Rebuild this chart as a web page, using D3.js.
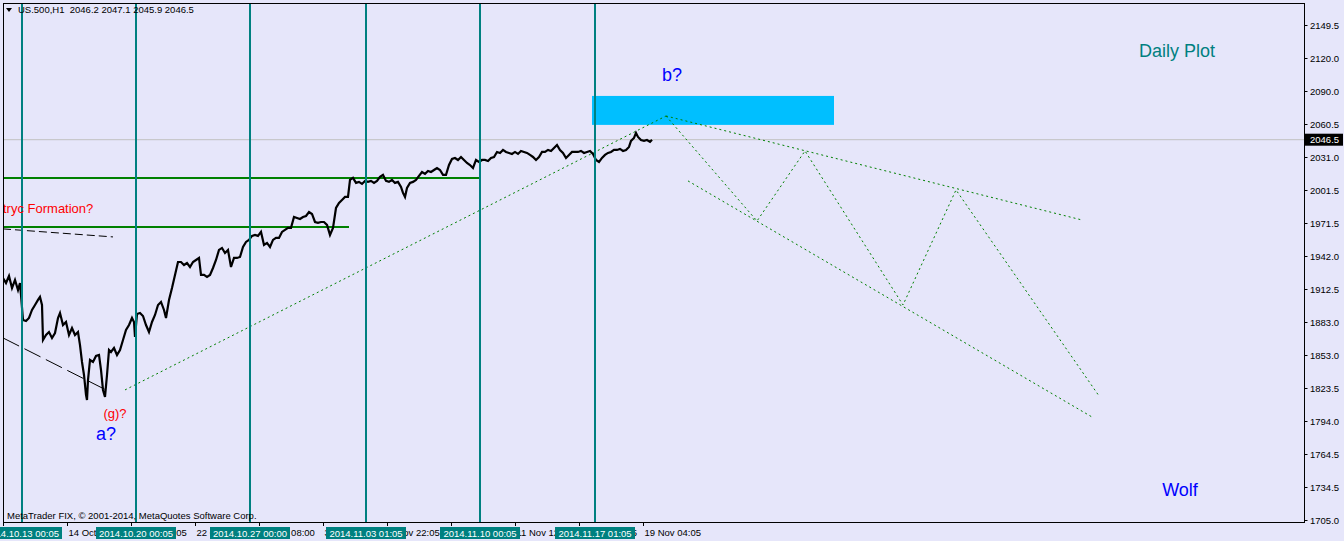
<!DOCTYPE html>
<html>
<head>
<meta charset="utf-8">
<script src="https://cdnjs.cloudflare.com/ajax/libs/d3/7.8.5/d3.min.js"></script>
<style>
  html, body { margin: 0; padding: 0; background: #E6E6FA; }
  svg { display: block; }
  text { font-family: "Liberation Sans", Arial, sans-serif; }
</style>
</head>
<body>
<div id="chart"></div>
<script>
/*
 * US.500 H1 chart with wolfe wave projection
 */

var width = 1344;
var height = 541;
var plotLeft = 3, plotRight = 1304, plotTop = 3, plotBottom = 522;

// price series, H1 bars (bar index from left edge) and close values
var priceBars = [0, 3, 6, 9, 12, 15, 17, 18, 20, 23, 26, 29, 32, 35, 37, 39, 40, 43, 46, 49,
  52, 55, 57, 60, 63, 66, 69, 72, 75, 77, 79, 81, 83, 84, 85, 87, 90, 93, 96, 98,
  100, 102, 104, 106, 108, 111, 114, 117, 120, 123, 126, 129, 131, 132, 134, 137, 140, 143, 146, 149,
  152, 155, 158, 161, 163, 166, 169, 172, 175, 178, 181, 184, 187, 190, 193, 196, 198, 201, 204, 207,
  210, 213, 216, 219, 222, 225, 228, 231, 234, 237, 240, 243, 246, 249, 252, 255, 258, 261, 264, 267,
  270, 273, 276, 279, 282, 285, 288, 291, 294, 297, 300, 303, 306, 309, 312, 315, 318, 321, 324, 327,
  330, 333, 336, 339, 342, 345, 347, 350, 353, 356, 359, 362, 365, 368, 371, 374, 377, 380, 383, 386,
  389, 392, 395, 398, 400, 402, 404, 407, 410, 413, 416, 419, 422, 425, 428, 431, 434, 437, 440, 443,
  446, 449, 452, 455, 458, 461, 464, 467, 470, 473, 476, 479, 482, 485, 488, 491, 494, 497, 500, 503,
  506, 509, 512, 515, 518, 521, 524, 527, 530, 533, 536, 539, 542, 545, 548, 551, 554, 557, 560, 563,
  566, 569, 572, 575, 578, 581, 584, 587, 590, 593, 596, 599, 602, 605, 608, 611, 614, 617, 620, 623,
  626, 628, 631, 633, 635, 638, 641, 644, 647, 649];
var priceClose = [1922.3, 1917.8, 1924.1, 1913.3, 1920.5, 1911.5, 1917.8, 1907.0, 1884.6, 1883.7,
  1886.4, 1893.6, 1898.1, 1902.6, 1905.3, 1898.1, 1866.6, 1871.1, 1873.8, 1868.4,
  1872.9, 1886.4, 1890.9, 1880.1, 1882.8, 1871.1, 1877.4, 1871.1, 1873.8, 1862.1,
  1846.9, 1835.2, 1817.3, 1812.8, 1830.7, 1848.7, 1846.9, 1852.3, 1853.2, 1839.7,
  1821.8, 1815.5, 1835.2, 1857.7, 1855.9, 1859.5, 1853.2, 1857.7, 1866.6, 1875.7,
  1880.1, 1886.4, 1882.8, 1869.4, 1890.0, 1890.9, 1888.2, 1880.1, 1873.8, 1882.8,
  1889.1, 1898.1, 1900.8, 1893.6, 1886.4, 1902.6, 1913.3, 1925.1, 1936.7, 1936.7,
  1934.0, 1935.8, 1932.2, 1936.7, 1938.5, 1940.3, 1925.1, 1925.1, 1923.3, 1925.1,
  1931.3, 1938.5, 1947.5, 1949.3, 1944.8, 1947.5, 1932.2, 1940.3, 1940.3, 1941.2,
  1950.2, 1954.7, 1956.5, 1960.1, 1961.0, 1960.1, 1963.7, 1952.0, 1953.8, 1950.2,
  1956.5, 1958.3, 1958.3, 1963.7, 1965.5, 1967.3, 1967.3, 1977.1, 1976.2, 1975.3,
  1977.1, 1978.0, 1981.6, 1979.8, 1972.6, 1971.8, 1972.6, 1972.6, 1970.0, 1961.0,
  1967.3, 1985.2, 1989.7, 1992.4, 1995.1, 1995.1, 2010.4, 2012.2, 2007.7, 2008.6,
  2006.8, 2009.5, 2008.6, 2009.5, 2007.7, 2009.5, 2013.1, 2014.9, 2009.5, 2008.6,
  2010.4, 2007.7, 2008.6, 2004.1, 1998.7, 1995.1, 2003.2, 2007.7, 2008.6, 2010.4,
  2014.0, 2017.5, 2015.8, 2018.4, 2017.5, 2019.3, 2021.1, 2019.3, 2014.9, 2014.9,
  2023.8, 2029.2, 2030.1, 2028.3, 2031.0, 2028.3, 2025.6, 2023.8, 2021.1, 2028.3,
  2026.5, 2028.3, 2028.3, 2027.4, 2030.1, 2031.0, 2035.5, 2034.6, 2037.3, 2035.5,
  2034.6, 2033.7, 2035.5, 2033.7, 2036.4, 2035.5, 2034.6, 2032.8, 2031.0, 2028.3,
  2031.0, 2035.5, 2035.5, 2037.3, 2036.4, 2039.1, 2041.8, 2037.3, 2034.6, 2030.1,
  2032.8, 2035.5, 2035.5, 2035.5, 2036.4, 2034.6, 2035.5, 2036.4, 2033.7, 2028.3,
  2026.5, 2030.1, 2032.8, 2034.6, 2035.5, 2037.3, 2037.3, 2038.2, 2036.4, 2037.3,
  2040.0, 2045.4, 2048.1, 2052.6, 2049.0, 2046.2, 2045.4, 2046.2, 2044.5, 2046.5];

var lastPrice = 2046.5;
var header = "US.500,H1  2046.2 2047.1 2045.9 2046.5";

// price axis
var yTicks = [2149.5, 2120.0, 2090.0, 2060.5, 2031.0, 2001.5, 1971.5, 1942.0,
  1912.5, 1883.0, 1853.0, 1823.5, 1794.0, 1764.5, 1734.5, 1705.0];

// time axis
var xTickBars = [0, 64, 128, 192, 256, 320, 384, 448, 512, 576, 640];
var xTickLabels = ["10 Oct 2014", "14 Oct 21:05", "17 Oct 19:05", "22 Oct 13:05", "27 Oct 08:00",
  "30 Oct 03:05", "3 Nov 22:05", "6 Nov 17:05", "11 Nov 12:05", "14 Nov 07:05", "19 Nov 04:05"];

// weekly vertical lines
var vlineBars = [19, 133, 247, 363, 477, 592];
var vlineLabels = ["2014.10.13 00:05", "2014.10.20 00:05", "2014.10.27 00:00",
  "2014.11.03 01:05", "2014.11.10 00:05", "2014.11.17 01:05"];

// horizontal support lines [start bar, end bar, price]
var hlineStart = [0, 0];
var hlineEnd = [477, 346];
var hlinePrice = [2012.2, 1968.1];

// black dashed trend lines
var dashStartBar = [0, 0];
var dashStartPrice = [1966.4, 1868.5];
var dashEndBar = [110, 107];
var dashEndPrice = [1959.2, 1820.0];

// projection: rising line to b?, zigzag, and the two channel lines
var riseBars = [122, 663];
var risePrices = [1821.8, 2067.8];
var zigBars = [663, 754, 802, 900, 953, 1096];
var zigPrices = [2067.8, 1973.5, 2036.4, 1898.1, 2001.4, 1816.4];
var upperBars = [663, 1079];
var upperPrices = [2067.8, 1974.4];
var lowerBars = [685, 1089];
var lowerPrices = [2009.5, 1797.5];

// target zone
var zoneBars = [589, 831];
var zonePrices = [2059.8, 2085.8];

var x = d3.scaleLinear()
  .domain([0, plotRight - plotLeft])
  .range([plotLeft, plotRight]);

var y = d3.scaleLinear()
  .domain([1705, 2149.5])
  .range([520, 25]);

var svg = d3.select('#chart')
  .append('svg')
  .attr('width', width)
  .attr('height', height);

svg.append('rect')
  .attr('width', width)
  .attr('height', height)
  .attr('fill', '#E6E6FA');

svg.append('clipPath')
  .attr('id', 'plot-clip')
  .append('rect')
  .attr('x', plotLeft)
  .attr('y', plotTop)
  .attr('width', plotRight - plotLeft)
  .attr('height', plotBottom - plotTop);

var plot = svg.append('g').attr('clip-path', 'url(#plot-clip)');

draw();

function draw() {
  // bid line
  plot.append('line')
    .attr('x1', plotLeft).attr('x2', plotRight)
    .attr('y1', y(lastPrice)).attr('y2', y(lastPrice))
    .attr('stroke', '#C0C0C0')
    .attr('stroke-width', 1);

  // target zone
  plot.append('rect')
    .attr('x', x(zoneBars[0]))
    .attr('y', y(zonePrices[1]))
    .attr('width', x(zoneBars[1]) - x(zoneBars[0]))
    .attr('height', y(zonePrices[0]) - y(zonePrices[1]))
    .attr('fill', '#00BFFF');

  // horizontal green levels
  hlinePrice.forEach(function (p, i) {
    plot.append('line')
      .attr('x1', x(hlineStart[i])).attr('x2', x(hlineEnd[i]))
      .attr('y1', y(p)).attr('y2', y(p))
      .attr('stroke', '#008000')
      .attr('stroke-width', 2);
  });

  // dashed black lines
  var dashes = ['8,4', '18,6'];
  dashStartBar.forEach(function (b, i) {
    plot.append('line')
      .attr('x1', x(b)).attr('y1', y(dashStartPrice[i]))
      .attr('x2', x(dashEndBar[i])).attr('y2', y(dashEndPrice[i]))
      .attr('stroke', '#000')
      .attr('stroke-width', 1)
      .attr('stroke-dasharray', dashes[i]);
  });

  // green dotted projection lines
  var dotLine = d3.line()
    .x(function (d) { return x(d[0]); })
    .y(function (d) { return y(d[1]); });
  var dotted = [
    d3.zip(riseBars, risePrices),
    d3.zip(zigBars, zigPrices),
    d3.zip(upperBars, upperPrices),
    d3.zip(lowerBars, lowerPrices)
  ];
  plot.selectAll('.proj')
    .data(dotted)
    .enter()
    .append('path')
    .attr('class', 'proj')
    .attr('d', dotLine)
    .attr('fill', 'none')
    .attr('stroke', '#008000')
    .attr('stroke-width', 1)
    .attr('stroke-dasharray', '2,3');

  // price line
  var priceLine = d3.line()
    .x(function (d) { return x(d[0]); })
    .y(function (d) { return y(d[1]); });
  plot.append('path')
    .datum(d3.zip(priceBars, priceClose))
    .attr('d', priceLine)
    .attr('fill', 'none')
    .attr('stroke', '#000')
    .attr('stroke-width', 2.2)
    .attr('stroke-linejoin', 'miter');

  // weekly teal lines
  vlineBars.forEach(function (b) {
    plot.append('line')
      .attr('x1', x(b)).attr('x2', x(b))
      .attr('y1', plotTop).attr('y2', plotBottom)
      .attr('stroke', '#008080')
      .attr('stroke-width', 2);
  });

  // annotations
  var notes = [
    { t: 'b?', bar: 669, p: 2099, size: 18, c: '#0000FF', a: 'middle' },
    { t: 'a?', bar: 103, p: 1777, size: 18, c: '#0000FF', a: 'middle' },
    { t: '(g)?', bar: 112, p: 1797, size: 13, c: '#FF0000', a: 'middle' },
    { t: 'tryc Formation?', bar: 0, p: 1981, size: 13, c: '#FF0000', a: 'start' },
    { t: 'Daily Plot', bar: 1174, p: 2121, size: 18, c: '#008080', a: 'middle' },
    { t: 'Wolf', bar: 1177, p: 1727, size: 18, c: '#0000FF', a: 'middle' }
  ];
  plot.selectAll('.note')
    .data(notes)
    .enter()
    .append('text')
    .attr('class', 'note')
    .attr('x', function (d) { return x(d.bar); })
    .attr('y', function (d) { return y(d.p); })
    .attr('font-size', function (d) { return d.size + 'px'; })
    .attr('fill', function (d) { return d.c; })
    .attr('text-anchor', function (d) { return d.a; })
    .text(function (d) { return d.t; });

  svg.append('text')
    .attr('x', 7)
    .attr('y', 519)
    .attr('font-size', '9.5px')
    .attr('fill', '#000')
    .text('MetaTrader FIX, \u00a9 2001-2014, MetaQuotes Software Corp.');

  // header
  svg.append('path')
    .attr('d', 'M6,8 L12,8 L9,12 Z')
    .attr('fill', '#000');
  svg.append('text')
    .attr('x', 18)
    .attr('y', 13)
    .attr('font-size', '9.5px')
    .attr('fill', '#000')
    .attr('xml:space', 'preserve')
    .style('white-space', 'pre')
    .text(header);

  // frame
  svg.append('rect')
    .attr('x', plotLeft + 0.5)
    .attr('y', plotTop + 0.5)
    .attr('width', plotRight - plotLeft)
    .attr('height', plotBottom - plotTop)
    .attr('fill', 'none')
    .attr('stroke', '#000')
    .attr('stroke-width', 1);

  drawAxes();
}

function drawAxes() {
  // price axis on the right
  var yAxis = svg.append('g');
  var yt = yAxis.selectAll('.ytick')
    .data(yTicks)
    .enter()
    .append('g')
    .attr('class', 'ytick')
    .attr('transform', function (d) { return 'translate(0,' + Math.round(y(d)) + ')'; });
  yt.append('line')
    .attr('x1', plotRight + 0.5).attr('x2', plotRight + 3.5)
    .attr('y1', 0.5).attr('y2', 0.5)
    .attr('stroke', '#000');
  yt.append('text')
    .attr('x', 1310)
    .attr('y', 3.5)
    .attr('font-size', '9.5px')
    .attr('fill', '#000')
    .text(function (d) { return d.toFixed(1); });

  // current price tag
  svg.append('rect')
    .attr('x', 1305)
    .attr('y', y(lastPrice) - 6)
    .attr('width', 38)
    .attr('height', 12)
    .attr('fill', '#000');
  svg.append('text')
    .attr('x', 1310)
    .attr('y', y(lastPrice) + 3.5)
    .attr('font-size', '9.5px')
    .attr('fill', '#fff')
    .text(lastPrice.toFixed(1));

  // time axis
  var xt = svg.selectAll('.xtick')
    .data(xTickBars)
    .enter()
    .append('g')
    .attr('class', 'xtick')
    .attr('transform', function (d) { return 'translate(' + (Math.round(x(d)) + 0.5) + ',0)'; });
  xt.append('line')
    .attr('y1', plotBottom).attr('y2', plotBottom + 4)
    .attr('stroke', '#000');
  xt.append('text')
    .attr('x', 1)
    .attr('y', 536)
    .attr('font-size', '9.5px')
    .attr('fill', '#000')
    .text(function (d, i) { return xTickLabels[i]; });

  // labels of the weekly lines
  var vl = svg.selectAll('.vlabel')
    .data(vlineBars)
    .enter()
    .append('g')
    .attr('class', 'vlabel')
    .attr('transform', function (d) { return 'translate(' + x(d) + ',0)'; });
  vl.append('rect')
    .attr('x', -40)
    .attr('y', 527)
    .attr('width', 80)
    .attr('height', 12)
    .attr('fill', '#008080');
  vl.append('text')
    .attr('x', 0)
    .attr('y', 536.5)
    .attr('text-anchor', 'middle')
    .attr('font-size', '9.5px')
    .attr('fill', '#fff')
    .text(function (d, i) { return vlineLabels[i]; });
}
</script>
</body>
</html>
